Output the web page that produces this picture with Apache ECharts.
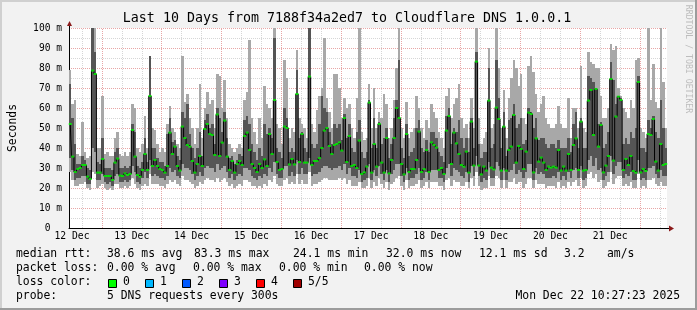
<!DOCTYPE html>
<html><head><meta charset="utf-8">
<script src="https://cdn.jsdelivr.net/npm/echarts@6/dist/echarts.min.js"></script>
<style>html,body{margin:0;padding:0;background:#f2f2f2}#c{width:697px;height:310px}</style>
</head><body><div id="c"></div>
<script>
// ---- data (hourly steps, 12 Dec ~10:27 -> 22 Dec ~10:27) ----
const dayLabels = ['12 Dec','13 Dec','14 Dec','15 Dec','16 Dec','17 Dec','18 Dec','19 Dec','20 Dec','21 Dec'];
const yTickLabels = ['0','10 m','20 m','30 m','40 m','50 m','60 m','70 m','80 m','90 m','100 m'];
const median = [52,35.7,28,29.5,30,31.5,31.5,25.7,24.5,78.7, 77,27.7,27.7,34.5,26,26,26,24,32.7,34.7, 26.2,26,27.3,26.5,27,49,35.7,26.5,25.7,29, 37,29,66,31,34,31,29.5,29,27.7,31,
 47.7,37,40.7,31,28.7,50.7,45,41.5,40.7,33.5, 27.7,32,36,31,49.5,52,47,46.5,36.5,56.8, 36,42.7,53.7,35.7,29,33.5,27.7,32,33.5,31.5, 46,47.7,39,32,30,28,32,30,34.3,31,
 47,37,64,33,29,29.5,50.7,50,31.8,34.5, 31.8,67,33,47,32.7,32.7,75.7,31.5,33.5,33.5, 35,40,48.7,50,41,37,41.5,42,42.8,38.7, 55,33,46,31,31.5,30,43.7,27,27.8,30.7,
 62.7,27.7,42,30.7,52,32.7,27.7,45,27.3,34, 45,60,55,32,26.8,47,28,29.5,29.5,34, 48.2,28,29.5,39,28,42.8,41.5,40.2,29,30, 27,48.7,56,32,47.7,42.3,37,31.5,30.7,38.2,
 27.7,53.2,31.2,83.2,31.2,26.8,30.7,28.7,63.7,30.2, 29.3,60.2,54.5,28.7,50.7,28.7,39,40.7,56.5,32.7, 41,39.5,29.5,38.2,57.7,57,27.8,44.8,33.2,35.2, 32.7,29,30.7,30.2,30.7,30.2,39,28.7,30.7,28.7,
 37,29,41.5,44.8,29,53.2,28.7,29,63.7,69, 46.5,69.5,40.7,51.5,27.8,31.2,36,74.5,33.7,55.7, 65.7,64,29,34.5,31.5,36,28.5,27.7,73,27.8, 29.5,28.5,47,46.5,54.5,33.2,28.7,42,31.5,32];
const smokeHi = [79,62,64,37,36,53,38,35,36,100, 100,40,40,66,37,38,36,36,45,48, 37,36,38,36,38,62,60,40,38,42, 56,40,86,50,49,42,38,40,38,52,
 61,50,48,42,40,86,63,67,55,50, 42,50,72,45,60,68,62,64,50,77, 76,60,74,55,42,40,38,40,42,40, 64,68,94,55,48,42,55,45,71,62,
 60,55,100,52,50,42,84,75,45,50, 48,89,55,52,50,45,100,52,48,59, 66,70,95,65,58,50,77,77,70,55, 65,60,62,50,45,65,100,48,44,45,
 72,50,70,50,58,55,67,62,45,50, 64,80,100,50,45,63,45,48,50,66, 60,50,45,54,50,62,58,55,48,45, 40,66,70,55,62,65,72,55,50,52,
 45,65,50,100,55,42,45,48,90,50, 52,100,80,50,69,45,65,75,84,80, 71,77,55,52,81,86,78,67,58,62, 66,55,52,50,50,52,61,52,50,50,
 65,45,60,60,50,81,50,48,88,83, 82,80,80,66,55,55,60,92,89,91, 70,66,60,58,55,64,60,84,85,50, 48,45,100,64,82,63,60,100,73,50];
const smokeQ3 = [72,55,42,32,32,36,34,30,29,100, 88,33,32,45,30,30,30,29,38,40, 30,30,31,30,31,52,48,31,30,33, 45,33,86,40,40,35,33,33,31,47,
 55,43,44,36,34,58,55,62,47,40, 35,40,48,36,54,57,50,52,42,60, 55,48,58,45,35,36,32,34,37,36, 54,56,52,42,38,34,40,36,52,47,
 50,45,95,40,38,35,60,55,38,40, 38,79,45,48,40,38,100,42,40,42, 52,66,60,58,48,42,52,50,52,44, 57,45,52,40,38,48,54,38,35,38,
 64,40,55,40,53,42,45,50,35,42, 55,64,84,40,35,52,36,38,40,50, 54,40,38,44,38,48,48,45,38,36, 33,56,60,42,50,48,54,45,40,45,
 38,55,40,88,42,35,38,38,80,40, 42,84,65,40,58,36,54,55,62,50, 52,55,42,44,60,58,50,55,44,45, 45,42,40,42,42,40,44,40,40,40,
 45,38,52,58,40,55,40,40,76,75, 73,70,52,53,40,42,48,83,74,62, 66,65,42,45,42,48,45,50,76,40, 40,38,54,50,56,48,45,64,50,40];
const smokeQ1 = [35,29,24,25,25,26,26,22,22,40, 38,24,24,27,23,22,23,21,26,27, 23,23,24,23,24,31,28,23,22,25, 28,25,34,26,27,26,25,25,24,26,
 30,28,29,26,25,32,30,30,29,27, 24,26,28,26,30,31,30,30,28,32, 29,30,31,28,25,27,24,26,27,26, 30,30,29,26,25,24,26,25,27,26,
 30,28,33,27,25,25,31,31,26,28, 26,34,27,30,27,27,35,26,27,27, 28,30,31,31,30,29,30,30,31,29, 32,27,30,26,26,25,29,23,24,25,
 32,24,29,26,31,27,24,29,23,27, 29,32,32,26,23,30,24,25,25,27, 30,24,25,28,24,29,29,29,25,25, 23,30,32,26,30,29,28,26,25,28,
 23,31,26,36,26,23,25,24,33,25, 25,33,31,24,30,24,28,29,32,27, 29,28,25,28,32,32,24,30,27,28, 27,25,25,25,26,25,28,24,26,24,
 28,25,29,30,25,31,24,25,34,36, 31,35,29,30,24,26,28,36,27,31, 33,33,25,27,26,28,24,24,34,24, 25,24,30,30,31,27,25,29,26,26];
const smokeLo = [28,24,21,21,22,22,23,20,19,28, 27,20,21,22,20,19,20,19,22,22, 20,20,21,20,21,25,22,20,19,21, 22,21,27,22,22,22,21,21,20,22,
 24,23,24,22,21,26,24,24,23,22, 20,21,23,22,24,25,24,24,23,25, 23,24,25,23,21,22,20,21,22,21, 24,24,23,21,21,20,21,20,22,21,
 24,23,26,22,21,21,24,25,22,23, 22,27,22,24,22,22,28,21,22,22, 23,24,25,25,24,24,24,24,25,24, 25,22,24,21,21,21,23,20,20,21,
 25,20,23,21,25,22,20,23,19,22, 23,25,26,21,19,24,20,21,21,22, 24,20,21,23,20,23,23,23,21,21, 19,24,25,21,24,23,23,21,21,23,
 20,25,21,28,21,19,20,20,26,21, 21,26,25,20,24,20,23,23,25,22, 23,23,20,22,25,25,20,24,22,22, 22,20,21,21,21,20,23,20,21,20,
 23,21,23,24,21,25,20,21,27,28, 25,27,23,24,20,21,23,28,22,25, 26,26,21,22,21,23,20,20,27,20, 21,20,24,24,25,22,21,23,21,21];
const rttStats = ['38.6 ms avg','83.3 ms max','24.1 ms min','32.0 ms now','12.1 ms sd','3.2','am/s'];
const lossStats = ['0.00 % avg','0.00 % max','0.00 % min','0.00 % now'];
const lossLevels = ['0','1','2','3','4','5/5'];
const lossColors = ['#00ff00','#00b8ff','#0059ff','#7e00ff','#ff0000','#a00000'];

// ---- styling ----
const FONT = 'DejaVu Sans Mono';
const MAJ = '#e8a6a6', MIN = '#d6d6d6';
const LIGHT = '#a8a8a8', DARK = '#555555';
const HOURS = 240, FIRST_MIDNIGHT = 13.2;

const smokeData = median.map((m, k) => [k, smokeLo[k], smokeQ1[k], smokeQ3[k], smokeHi[k]]);
const medData = median.map((m, k) => [k + 0.5, m]);
const majorX = [], minorX = [];
for (let t = FIRST_MIDNIGHT - 8; t < HOURS; t += 8) {
  const d = (t - FIRST_MIDNIGHT) / 24;
  if (Math.abs(d - Math.round(d)) < 1e-6) majorX.push(t); else minorX.push(t);
}
const labelX = dayLabels.map((_, i) => FIRST_MIDNIGHT - 12 + 24 * i);

const chart = echarts.init(document.getElementById('c'), null, {renderer: 'canvas'});
chart.setOption({
  backgroundColor: '#f2f2f2',
  animation: false,
  grid: {left: 67, right: 30, top: 28, bottom: 82, show: true, backgroundColor: '#ffffff', borderWidth: 0},
  xAxis: {
    type: 'value', min: 0, max: HOURS,
    splitLine: {show: false},
    axisLine: {lineStyle: {color: '#000', width: 1}},
    axisTick: {show: false},
    axisLabel: {
      customValues: labelX, margin: 3,
      formatter: v => dayLabels[Math.round((v - labelX[0]) / 24)] || '',
      fontFamily: FONT, fontSize: 9.7, color: '#000'
    }
  },
  yAxis: {
    type: 'value', min: 0, max: 100, interval: 10,
    axisLine: {show: true, lineStyle: {color: '#000', width: 1}},
    axisTick: {show: false},
    splitLine: {show: true, lineStyle: {color: MAJ, type: [1, 1], width: 1}},
    minorTick: {show: false, splitNumber: 2},
    minorSplitLine: {show: true, lineStyle: {color: MIN, type: [1, 1], width: 1}},
    axisLabel: {
      margin: 7, fontFamily: FONT, fontSize: 9.6, color: '#000',
      formatter: v => { const s = yTickLabels[Math.round(v / 10)]; return v === 0 ? s + '  ' : s; }
    },
    name: 'Seconds', nameLocation: 'middle', nameGap: 50,
    nameTextStyle: {fontFamily: FONT, fontSize: 11.4, color: '#000'}
  },
  series: [
    {
      type: 'line', data: [], silent: true, z: 1,
      markLine: {
        silent: true, symbol: 'none', z: 1, animation: false, label: {show: false},
        data: minorX.map(x => ({xAxis: x, lineStyle: {color: MIN, type: [1, 1], width: 1}}))
          .concat(majorX.map(x => ({xAxis: x, lineStyle: {color: MAJ, type: [1, 1], width: 1}})))
      }
    },
    {
      type: 'custom', z: 2, silent: true, clip: true, data: smokeData,
      encode: {x: 0, y: [1, 2, 3, 4]},
      renderItem: (params, api) => {
        const k = api.value(0);
        const xa = Math.round(api.coord([k, 0])[0]);
        const xb = Math.round(api.coord([k + 1, 0])[0]);
        const y = v => Math.round(api.coord([k, v])[1]);
        const yLo = y(api.value(1)), yQ1 = y(api.value(2)), yQ3 = y(api.value(3)), yHi = y(api.value(4));
        return {type: 'group', children: [
          {type: 'rect', shape: {x: xa, y: yHi, width: xb - xa, height: yLo - yHi}, style: {fill: LIGHT}},
          {type: 'rect', shape: {x: xa, y: yQ3, width: xb - xa, height: yQ1 - yQ3}, style: {fill: DARK}}
        ]};
      }
    },
    {
      type: 'line', z: 3, silent: true, data: medData, step: 'middle', showSymbol: false,
      lineStyle: {color: '#000', width: 1}
    },
    {
      type: 'scatter', z: 4, silent: true, data: medData, symbol: 'rect', symbolSize: [3, 2],
      itemStyle: {color: '#00ff00'}
    }
  ]
});

// ---- decorations: texts, legend, arrows, frame ----
const o = chart.convertToPixel({gridIndex: 0}, [0, 0]);
const e = chart.convertToPixel({gridIndex: 0}, [HOURS, 100]);
const txt = (x, y, text, extra) => Object.assign({type: 'text', x: x, y: y, silent: true,
  style: Object.assign({text: text, fontFamily: FONT, fontSize: 11.4, fill: '#000', verticalAlign: 'middle'}, extra || {})});
const g = [];
g.push({type: 'rect', shape: {x: 0, y: 0, width: 697, height: 2}, style: {fill: '#d0d0d0'}, silent: true});
g.push({type: 'rect', shape: {x: 0, y: 0, width: 2, height: 310}, style: {fill: '#d0d0d0'}, silent: true});
g.push({type: 'rect', shape: {x: 0, y: 308, width: 697, height: 2}, style: {fill: '#9c9c9c'}, silent: true});
g.push({type: 'rect', shape: {x: 695, y: 0, width: 2, height: 310}, style: {fill: '#9c9c9c'}, silent: true});
g.push(txt(347, 19, 'Last 10 Days from 7188f34a2ed7 to Cloudflare DNS 1.0.0.1', {fontSize: 13.3, align: 'center'}));
g.push({type: 'text', x: 688, y: 59, rotation: -Math.PI / 2, silent: true,
  style: {text: 'RRDTOOL / TOBI OETIKER', fontFamily: FONT, fontSize: 8.2, fill: '#bdbdbd', align: 'center', verticalAlign: 'middle'}});
// axis arrows
g.push({type: 'line', silent: true, shape: {x1: e[0], y1: o[1] + 0.5, x2: e[0] + 3, y2: o[1] + 0.5}, style: {stroke: '#000', lineWidth: 1}});
g.push({type: 'polygon', silent: true, shape: {points: [[e[0] + 2, o[1] - 2.5], [e[0] + 7, o[1] + 0.5], [e[0] + 2, o[1] + 3.5]]}, style: {fill: '#8b1a1a'}});
g.push({type: 'line', silent: true, shape: {x1: o[0] + 0.5, y1: e[1], x2: o[0] + 0.5, y2: e[1] - 3}, style: {stroke: '#000', lineWidth: 1}});
g.push({type: 'polygon', silent: true, shape: {points: [[o[0] - 2, e[1] - 2], [o[0] + 0.5, e[1] - 7], [o[0] + 3, e[1] - 2]]}, style: {fill: '#8b1a1a'}});
// legend rows
const rttX = [107, 194, 293, 386, 479, 564, 607];
g.push(txt(16, 254, 'median rtt:'));
rttStats.forEach((s, i) => g.push(txt(rttX[i], 254, s)));
const lossX = [107, 193, 279, 364];
g.push(txt(16, 268, 'packet loss:'));
lossStats.forEach((s, i) => g.push(txt(lossX[i], 268, s)));
g.push(txt(16, 282, 'loss color:'));
lossLevels.forEach((s, i) => {
  const bx = 108 + 37 * i;
  g.push({type: 'rect', silent: true, shape: {x: bx + 0.5, y: 279.5, width: 8, height: 8}, style: {fill: lossColors[i], stroke: '#000', lineWidth: 1}});
  g.push(txt(bx + 15, 282, s));
});
g.push(txt(16, 296, 'probe:'));
g.push(txt(107, 296, '5 DNS requests every 300s'));
g.push(txt(680, 296, 'Mon Dec 22 10:27:23 2025', {align: 'right'}));
chart.setOption({graphic: g});
</script>
</body></html>
